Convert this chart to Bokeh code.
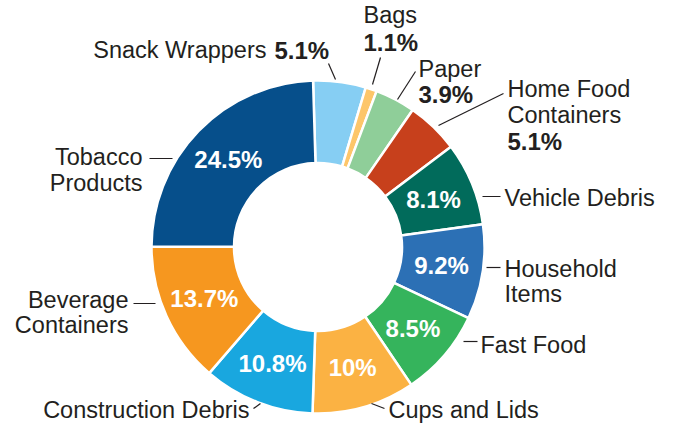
import math
from bokeh.plotting import figure
from bokeh.models import Range1d, ColumnDataSource
from bokeh.core.properties import value
from bokeh.embed import file_html
from bokeh.resources import INLINE

# ---------------- data ----------------
categories = ["Snack Wrappers", "Bags", "Paper", "Home Food Containers",
              "Vehicle Debris", "Household Items", "Fast Food", "Cups and Lids",
              "Construction Debris", "Beverage Containers", "Tobacco Products"]
values = [5.1, 1.1, 3.9, 5.1, 8.1, 9.2, 8.5, 10, 10.8, 13.7, 24.5]
colors = ["#86CEF3", "#FDC66A", "#8FCE99", "#C7401C", "#016B5B", "#2C70B5",
          "#35B45C", "#FBB243", "#19A7DF", "#F6971F", "#064F8B"]
pct_inside = [False, False, False, False, True, True, True, True, True, True, True]

# ---------------- layout / style ----------------
CX, CY = 317.5, 246.5          # donut centre (pixels from top-left)
R_OUT, R_IN, R_LBL = 166.5, 84.0, 125.0
START_DEG = 91.7               # first slice starts here, slices run clockwise
FONT = "Liberation Sans"
TXT = "#231F20"
FS_REG = "23.5px"
FS_BOLD = "24px"
W, H = 657, 424

# outside label lines: (text, bold, x, middle row, align); "{pct}" -> value
label_layout = {
    "Snack Wrappers": [("Snack Wrappers", False, 266, 49.5, "right"),
                       ("{pct}", True, 274, 49.5, "left")],
    "Bags": [("Bags", False, 363, 14.5, "left"), ("{pct}", True, 363, 41.5, "left")],
    "Paper": [("Paper", False, 418, 68.5, "left"), ("{pct}", True, 418, 93.5, "left")],
    "Home Food Containers": [("Home Food", False, 507, 88.5, "left"),
                             ("Containers", False, 507, 114.5, "left"),
                             ("{pct}", True, 507, 140.5, "left")],
    "Vehicle Debris": [("Vehicle Debris", False, 504, 197.5, "left")],
    "Household Items": [("Household", False, 504, 268.5, "left"),
                        ("Items", False, 504, 293.5, "left")],
    "Fast Food": [("Fast Food", False, 480, 344.5, "left")],
    "Cups and Lids": [("Cups and Lids", False, 388, 409, "left")],
    "Construction Debris": [("Construction Debris", False, 249, 409, "right")],
    "Beverage Containers": [("Beverage", False, 128, 299.5, "right"),
                            ("Containers", False, 128, 324.5, "right")],
    "Tobacco Products": [("Tobacco", False, 142, 156.5, "right"),
                         ("Products", False, 142, 182.5, "right")],
}
leaders = {
    "Snack Wrappers": (328, 63, 335, 79),
    "Bags": (380, 57, 372, 84),
    "Paper": (415, 71, 397, 99),
    "Home Food Containers": (503, 93, 438, 125),
    "Vehicle Debris": (482, 196, 500, 196),
    "Household Items": (486, 267, 500, 267),
    "Fast Food": (463, 341, 477, 341),
    "Cups and Lids": (371, 403, 384, 408),
    "Construction Debris": (260, 403, 253, 408),
    "Beverage Containers": (133, 303, 155, 303),
    "Tobacco Products": (149, 158, 172, 158),
}


def fmt(v):
    return f"{v:g}%"


# ---------------- wedges ----------------
total = sum(values)
starts, ends, mids = [], [], []
cum = 0.0
for v in values:
    a0 = math.radians(START_DEG - cum / total * 360.0)
    cum += v
    a1 = math.radians(START_DEG - cum / total * 360.0)
    starts.append(a0)
    ends.append(a1)
    mids.append((a0 + a1) / 2)

p = figure(width=W, height=H, x_range=Range1d(0, W), y_range=Range1d(-H, 0),
           output_backend="svg", toolbar_location=None, min_border=0)
p.axis.visible = False
p.xgrid.visible = False
p.ygrid.visible = False
p.outline_line_color = None
p.background_fill_color = "white"
p.border_fill_color = "white"

src = ColumnDataSource(dict(x=[CX] * len(values), y=[-CY] * len(values),
                            start=starts, end=ends, color=colors, cat=categories, val=values))
p.annular_wedge(x="x", y="y", inner_radius=R_IN, outer_radius=R_OUT,
                start_angle="start", end_angle="end", direction="clock",
                fill_color="color", line_color="white", line_width=2.5, source=src)

# percentage labels inside the ring
px, py, pt = [], [], []
for v, m, inside in zip(values, mids, pct_inside):
    if inside:
        px.append(CX + R_LBL * math.cos(m))
        py.append(-CY + R_LBL * math.sin(m))
        pt.append(fmt(v))
p.text(x=px, y=py, text=pt, text_font=value(FONT), text_font_size=value(FS_BOLD),
       text_font_style="bold", text_color="white", text_align="center",
       text_baseline="middle")

# outside labels
for cat, v in zip(categories, values):
    for txt, bold, x, row, align in label_layout[cat]:
        t = txt.replace("{pct}", fmt(v))
        p.text(x=[x], y=[-row], text=[t], text_font=value(FONT),
               text_font_size=value(FS_BOLD if bold else FS_REG),
               text_font_style="bold" if bold else "normal",
               text_color=TXT, text_align=align, text_baseline="middle")

# leader lines
x0s, y0s, x1s, y1s = [], [], [], []
for cat in categories:
    a, b, c, d = leaders[cat]
    x0s.append(a); y0s.append(-b); x1s.append(c); y1s.append(-d)
p.segment(x0=x0s, y0=y0s, x1=x1s, y1=y1s, line_color=TXT, line_width=1.2)

open("out.html", "w").write(file_html(p, INLINE))
